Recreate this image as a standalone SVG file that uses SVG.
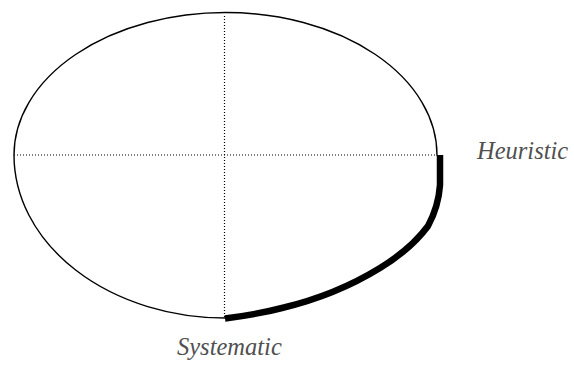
<svg xmlns="http://www.w3.org/2000/svg" width="574" height="369" viewBox="0 0 574 369">
<style>
.outline{fill:none;stroke:#000;stroke-width:1.4}
.axis{fill:none;stroke:#000;stroke-width:1.2;stroke-dasharray:1 2}
.thick{fill:none;stroke:#000;stroke-width:6.5;stroke-linecap:butt;stroke-linejoin:round}
.lbl{font-family:"Liberation Serif","Times New Roman",serif;font-style:italic;font-size:24.5px;fill:#505050}
</style>
<rect width="574" height="369" fill="#fff"/>
<g id="ellipse">
<path class="outline" d="M225.5,318 A211.5,163 0 0 1 14,155 A211.5,142.5 0 0 1 437,155 L440,160"/>
</g>
<g id="connectors">
<line class="axis" x1="14" y1="155" x2="437" y2="155"/>
<line class="axis" x1="224.5" y1="16" x2="224.5" y2="318"/>
<path class="thick" d="M440,155 L440,185 C439,200 435,213 428,226 C414,245 398,257 380,268 C354,284 324,298 282,308 C263,313 244,316 225,318.5"/>
</g>
<g id="heuristic"><text class="lbl" x="477" y="159">Heuristic</text></g>
<g id="systematic"><text class="lbl" x="177" y="355">Systematic</text></g>
</svg>
